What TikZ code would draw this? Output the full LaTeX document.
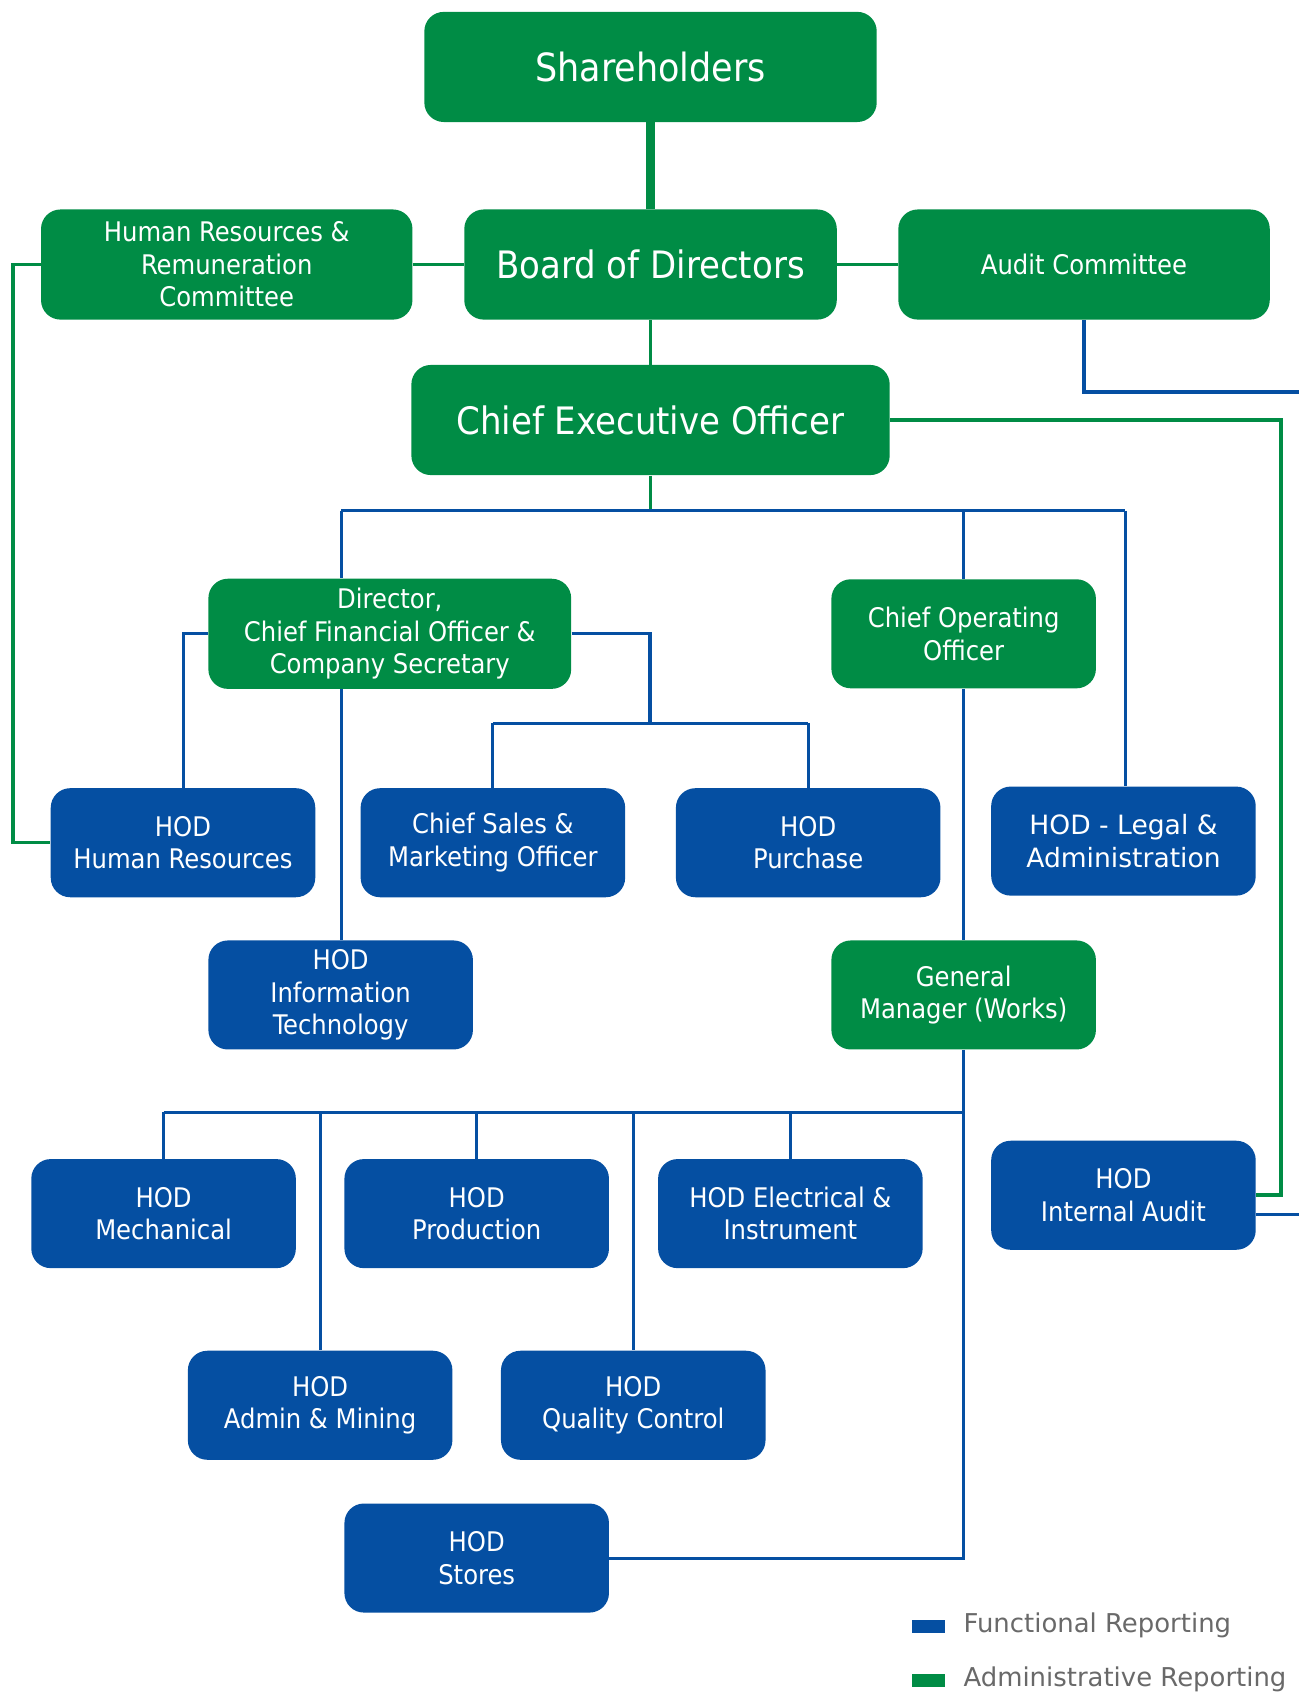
\documentclass[tikz,border=0pt]{standalone}
\usepackage{fontspec}
\setmainfont{DejaVu Sans Condensed}
\newfontfamily\verd{DejaVu Sans}
\definecolor{gr}{RGB}{0,140,69}
\definecolor{bu}{RGB}{5,79,162}
\definecolor{lg}{RGB}{105,105,105}
\begin{document}
\begin{tikzpicture}[x=0.5pt,y=-0.5pt,
  orgbox/.style={rounded corners=9pt, text=white, align=center, inner sep=0pt,
    font=\fontsize{12.5}{15}\selectfont, minimum height=50.5pt, minimum width=122.5pt},
  gbox/.style={orgbox, fill=gr},
  bbox/.style={orgbox, fill=bu},
  bigtxt/.style={font=\fontsize{17.5}{22}\selectfont},
  gl/.style={draw=gr, line width=1.5pt},
  bl/.style={draw=bu, line width=1.4pt},
  legtxt/.style={anchor=west, inner sep=0pt, text=lg, font=\verd\fontsize{12}{14}\selectfont}]
\useasboundingbox (0,0) rectangle (1203,1568);
% nodes
\node[gbox, font=\fontsize{18}{22}\selectfont, minimum width=209.5pt, minimum height=51pt] (sh) at (602.5,62) {Shareholders};
\node[gbox, bigtxt, minimum width=172.5pt, minimum height=51pt] (bod) at (602.5,245) {Board of Directors};
\node[gbox, minimum width=172pt, minimum height=51pt] (hrc) at (210,245) {Human Resources \&\\Remuneration\\Committee};
\node[gbox, minimum width=172pt, minimum height=51pt] (aud) at (1004,245) {Audit Committee};
\node[gbox, bigtxt, minimum width=221.5pt, minimum height=51pt] (ceo) at (602.5,389) {Chief Executive Officer};
\node[gbox, minimum width=168pt, minimum height=51pt] (cfo) at (361,587) {Director,\\Chief Financial Officer \&\\Company Secretary};
\node[gbox] (coo) at (892.5,587) {Chief Operating\\Officer};
\node[bbox] (hhr) at (169.5,780.5) {HOD\\Human Resources};
\node[bbox] (csm) at (456.5,780.5) {Chief Sales \&\\Marketing Officer};
\node[bbox] (pur) at (748.5,780.5) {HOD\\Purchase};
\node[bbox, font=\verd\fontsize{12.3}{15}\selectfont] (leg) at (1040.5,779) {HOD - Legal \&\\Administration};
\node[bbox] (hit) at (315.5,921.5) {HOD\\Information\\Technology};
\node[gbox] (gm) at (892.5,921.5) {General\\Manager (Works)};
\node[bbox] (mec) at (151.5,1124) {HOD\\Mechanical};
\node[bbox] (pro) at (441.5,1124) {HOD\\Production};
\node[bbox] (ele) at (732,1124) {HOD Electrical \&\\Instrument};
\node[bbox] (ia) at (1040.5,1107) {HOD\\Internal Audit};
\node[bbox] (adm) at (296.5,1301.5) {HOD\\Admin \& Mining};
\node[bbox] (qc) at (586.5,1301.5) {HOD\\Quality Control};
\node[bbox] (sto) at (441.5,1443) {HOD\\Stores};
% coordinates
\coordinate (gL) at (12,245);
\coordinate (gR) at (1186,389);
\coordinate (aj) at (1004,363);
\coordinate (aEnd) at (1215,363);
\coordinate (iaEnd) at (1215,1125);
\coordinate (iaB) at (1163,1125);
\coordinate (cj) at (602.5,473);
\coordinate (jA) at (316,473);
\coordinate (jB) at (892.5,473);
\coordinate (jC) at (1042,473);
\coordinate (fL) at (169.5,587);
\coordinate (fR) at (602,587);
\coordinate (fM) at (602,670);
\coordinate (fA) at (456.5,670);
\coordinate (fB) at (748.5,670);
\coordinate (fIT) at (316,600);
\coordinate (gJ) at (892.5,1030);
\coordinate (g1) at (151.5,1030);
\coordinate (g2) at (296.5,1030);
\coordinate (g3) at (441.5,1030);
\coordinate (g4) at (586.5,1030);
\coordinate (g5) at (732,1030);
\coordinate (gS) at (892.5,1443);
% green connectors
\draw[draw=gr, line width=4.5pt] (sh.south) -- (bod.north);
\draw[gl] (bod.south) -- (ceo.north);
\draw[gl] (hrc.east) -- (bod.west);
\draw[gl] (bod.east) -- (aud.west);
\draw[gl] (hrc.west) -- (gL) |- (hhr.west);
\draw[gl, line width=1.8pt] (ceo.east) -- (gR) |- (ia.east);
\draw[gl] (ceo.south) -- (cj);
% blue connectors
\draw[bl, line width=2.2pt] (aud.south) -- (aj) -- (aEnd);
\draw[bl] (iaB) -- (iaEnd);
\draw[bl] (jA) -- (jC);
\draw[bl] (jA) -- (jA |- cfo.north);
\draw[bl] (jB) -- (coo.north);
\draw[bl] (jC) -- (jC |- leg.north);
\draw[bl] (cfo.west) -- (fL) -- (hhr.north);
\draw[bl] (cfo.east) -- (fR) -- (fM);
\draw[bl] (fA) -- (fB);
\draw[bl] (fA) -- (csm.north);
\draw[bl] (fB) -- (pur.north);
\draw[bl] (fIT |- cfo.south) -- (fIT |- hit.north);
\draw[bl] (coo.south) -- (gm.north);
\draw[bl] (gm.south) -- (gS) -- (sto.east);
\draw[bl] (g1) -- (gJ);
\draw[bl] (g1) -- (mec.north);
\draw[bl] (g2) -- (adm.north);
\draw[bl] (g3) -- (pro.north);
\draw[bl] (g4) -- (qc.north);
\draw[bl] (g5) -- (ele.north);
% legend
\fill[bu] (845,1500) rectangle (875,1512);
\fill[gr] (845,1550) rectangle (875,1562);
\node[legtxt] (l1) at (892,1505) {Functional Reporting};
\node[legtxt] (l2) at (892,1555) {Administrative Reporting};
\end{tikzpicture}
\end{document}
